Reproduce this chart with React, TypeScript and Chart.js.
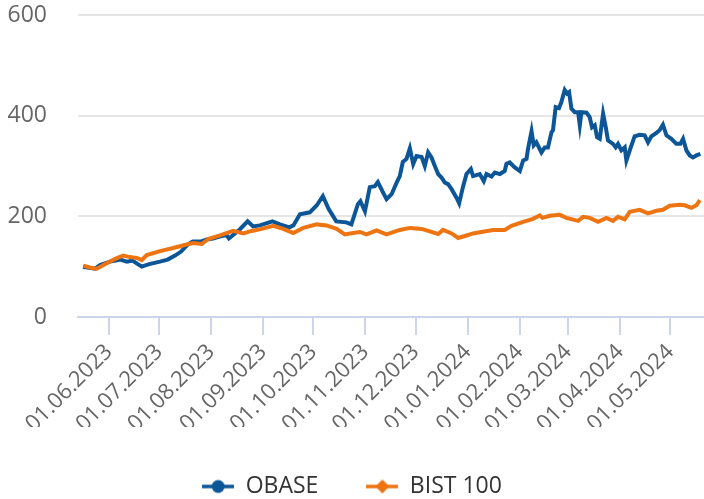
import { useEffect, useRef } from 'react';
import { Chart, registerables } from 'chart.js';

Chart.register(...registerables);

const FONT = '"Open Sans", "Noto Sans", sans-serif';

// Days counted from 01.06.2023
const tickDays = [0, 30, 61, 92, 122, 153, 183, 214, 245, 274, 305, 335];
const tickLabels = [
  '01.06.2023', '01.07.2023', '01.08.2023', '01.09.2023', '01.10.2023', '01.11.2023',
  '01.12.2023', '01.01.2024', '01.02.2024', '01.03.2024', '01.04.2024', '01.05.2024',
];

const obaseDays = [
  -15.5, -12, -8.3, -5.4, 0.6, 4, 6.6, 10.7, 14, 19.5, 24, 30.4, 35, 39.4, 43, 46.9, 50, 55, 58.4, 62,
  66, 70, 71.5, 73, 78, 82.7, 86, 90, 97.5, 102, 107.6, 110, 113.9, 119.8, 124, 127.6, 131, 135.6, 141.6, 144.6,
  148.5, 150, 152.7, 155.6, 158.6, 160.4, 163.4, 165.6, 168.6, 171.6, 173.5, 175.3, 177.5, 179.5, 181.5, 183.5, 186.5, 188.4, 190.4, 192.4,
  194.4, 196.4, 198.4, 200.4, 202.3, 204.4, 207.3, 208.9, 211.3, 213.3, 215.9, 217.2, 221.2, 223.6, 225.2, 228.2, 230.2, 233.2, 236.1, 237.1,
  239.1, 242.1, 245.1, 247.1, 249.1, 250.0, 252.1, 253.4, 255.0, 258.0, 260.0, 261.9, 264.0, 264.9, 266.5, 268.5, 269.9, 271.9, 273.3, 274.5,
  275.9, 277.9, 279.9, 280.9, 281.9, 284.9, 286.8, 288.2, 289.8, 291.2, 292.8, 294.8, 296.4, 297.7, 300.7, 302.3, 303.7, 305.7, 307.7, 308.7,
  310.7, 313.6, 316.6, 319.6, 321.6, 323.6, 326.6, 328.5, 330.5, 332.6, 335.5, 338.5, 340.9, 342.5, 344.5, 346.5, 348.4, 350.5, 352.8,
];
const obaseValues = [
  100, 98, 96, 103, 110, 112, 114, 110, 112, 100, 105, 110, 114, 122, 130, 144, 150, 150, 154, 156,
  160, 163, 156, 160, 174, 190, 180, 182, 190, 184, 178, 182, 204, 208, 222, 240, 215, 190, 188, 184,
  224, 230, 210, 258, 260, 268, 248, 234, 244, 267, 280, 308, 314, 335, 304, 320, 318, 300, 327, 317,
  300, 284, 277, 267, 264, 254, 237, 226, 260, 284, 294, 280, 284, 270, 284, 279, 287, 284, 290, 304,
  307, 297, 290, 311, 314, 334, 369, 341, 347, 327, 337, 337, 367, 371, 417, 415, 427, 451, 444, 447,
  414, 407, 407, 381, 407, 406, 397, 377, 381, 357, 354, 404, 377, 351, 344, 337, 344, 331, 337, 311,
  331, 359, 362, 361, 347, 359, 366, 371, 382, 361, 354, 344, 344, 354, 331, 321, 317, 321, 324,
];

const bistDays = [
  -15.3, -11, -7.3, -1.4, 4, 8.5, 12.5, 17, 19.5, 22.5, 30.4, 38.3, 46.3, 50.3, 55.3, 59.2, 66.2, 74.1, 80.1, 85.1,
  90.0, 98.0, 103.9, 109.9, 115.9, 123.9, 129.8, 135.8, 140.7, 145.7, 149.7, 153.7, 159.6, 165.6, 173.5, 179.5, 186.5, 190.4, 196.4, 199.3,
  204.4, 208.3, 213.3, 217.2, 222.2, 229.2, 236.1, 240.1, 247.1, 253.0, 257.0, 258.6, 263.0, 268.9, 272.9, 279.9, 282.9, 286.8, 291.8, 296.8,
  300.7, 303.7, 307.7, 310.7, 316.6, 321.6, 326.6, 330.5, 334.5, 340.5, 343.5, 347.5, 350.5, 352.5,
];
const bistValues = [
  102, 98, 96, 107, 116, 122, 119, 117, 113, 123, 131, 137, 144, 147, 145, 155, 162, 171, 166, 171,
  174, 181, 175, 167, 177, 184, 182, 175, 164, 167, 169, 164, 172, 164, 173, 177, 175, 171, 165, 173,
  166, 157, 162, 166, 169, 173, 173, 181, 189, 195, 202, 197, 201, 203, 197, 191, 199, 197, 189, 197,
  191, 199, 194, 209, 213, 206, 211, 213, 221, 223, 222, 217, 222, 232,
];

const BLUE = '#0c5597';
const ORANGE = '#ee7411';

function makeIcon(color: string, shape: 'circle' | 'diamond') {
  const c = document.createElement('canvas');
  c.width = 32;
  c.height = 16;
  const ctx = c.getContext('2d')!;
  ctx.strokeStyle = color;
  ctx.fillStyle = color;
  ctx.lineWidth = 3.5;
  ctx.beginPath();
  ctx.moveTo(0, 8);
  ctx.lineTo(32, 8);
  ctx.stroke();
  ctx.beginPath();
  if (shape === 'circle') {
    ctx.arc(16, 8, 6.5, 0, Math.PI * 2);
  } else {
    ctx.moveTo(16, 1);
    ctx.lineTo(23, 8);
    ctx.lineTo(16, 15);
    ctx.lineTo(9, 8);
    ctx.closePath();
  }
  ctx.fill();
  return c;
}

export default function App() {
  const ref = useRef<HTMLCanvasElement>(null);

  useEffect(() => {
    const canvas = ref.current!;
    const iconBlue = makeIcon(BLUE, 'circle');
    const iconOrange = makeIcon(ORANGE, 'diamond');
    const legendFont = 23;
    const legendPad = 48;
    const padBottom = -9;
    const plotBottom = 317;
    const legendHeight = legendFont + legendPad + 10;
    const xAxisHeight = 499 - padBottom - legendHeight - plotBottom;

    const chart = new Chart(canvas, {
      type: 'line',
      data: {
        datasets: [
          {
            label: 'BIST 100',
            data: bistDays.map((d, i) => ({ x: d, y: bistValues[i] })),
            borderColor: ORANGE,
            backgroundColor: ORANGE,
            borderWidth: 4,
            pointRadius: 0,
            tension: 0,
            order: 0,
          },
          {
            label: 'OBASE',
            data: obaseDays.map((d, i) => ({ x: d, y: obaseValues[i] })),
            borderColor: BLUE,
            backgroundColor: BLUE,
            borderWidth: 4,
            pointRadius: 0,
            tension: 0,
            order: 1,
          },
        ],
      },
      options: {
        responsive: false,
        animation: false,
        devicePixelRatio: 1,
        events: [],
        layout: { padding: { top: 15, left: 0, right: 0, bottom: padBottom } },
        plugins: {
          tooltip: { enabled: false },
          legend: {
            position: 'bottom',
            labels: {
              usePointStyle: true,
              pointStyleWidth: 32,
              padding: legendPad,
              color: '#333333',
              font: { family: FONT, size: legendFont },
              generateLabels: () => [
                { text: 'OBASE', pointStyle: iconBlue as any, fillStyle: BLUE, strokeStyle: BLUE, lineWidth: 0, hidden: false, datasetIndex: 1, fontColor: '#333333' },
                { text: 'BIST 100', pointStyle: iconOrange as any, fillStyle: ORANGE, strokeStyle: ORANGE, lineWidth: 0, hidden: false, datasetIndex: 0, fontColor: '#333333' },
              ],
            },
          },
        },
        scales: {
          x: {
            type: 'linear',
            min: -18.5,
            max: 355,
            afterBuildTicks: (s: any) => {
              s.ticks = tickDays.map((v) => ({ value: v }));
            },
            afterFit: (s: any) => {
              s.height = xAxisHeight;
            },
            ticks: {
              autoSkip: false,
              minRotation: 45,
              maxRotation: 45,
              padding: 4,
              color: '#666666',
              font: { family: FONT, size: 22 },
              callback: (v: any) => {
                const i = tickDays.indexOf(Number(v));
                return i >= 0 ? tickLabels[i] : '';
              },
            },
            grid: { drawOnChartArea: false, drawTicks: true, tickLength: 18, color: '#ccd6eb', lineWidth: 2 },
            border: { color: '#ccd6eb', width: 2 },
          },
          y: {
            min: 0,
            max: 600,
            afterFit: (s: any) => {
              s.width = 78;
              s.paddingTop = 12;
              s.paddingBottom = 12;
            },
            ticks: {
              stepSize: 200,
              padding: 31,
              color: '#666666',
              font: { family: FONT, size: 23 },
            },
            grid: {
              drawTicks: false,
              lineWidth: 2,
              color: (c: any) => (c.tick && c.tick.value === 0 ? 'rgba(0,0,0,0)' : '#e6e6e6'),
            },
            border: { display: false },
          },
        },
      },
    });
    return () => chart.destroy();
  }, []);

  return (
    <div style={{ position: 'fixed', left: 0, top: 0, width: 704, height: 499, background: '#fff' }}>
      <canvas ref={ref} width={704} height={499} />
    </div>
  );
}
